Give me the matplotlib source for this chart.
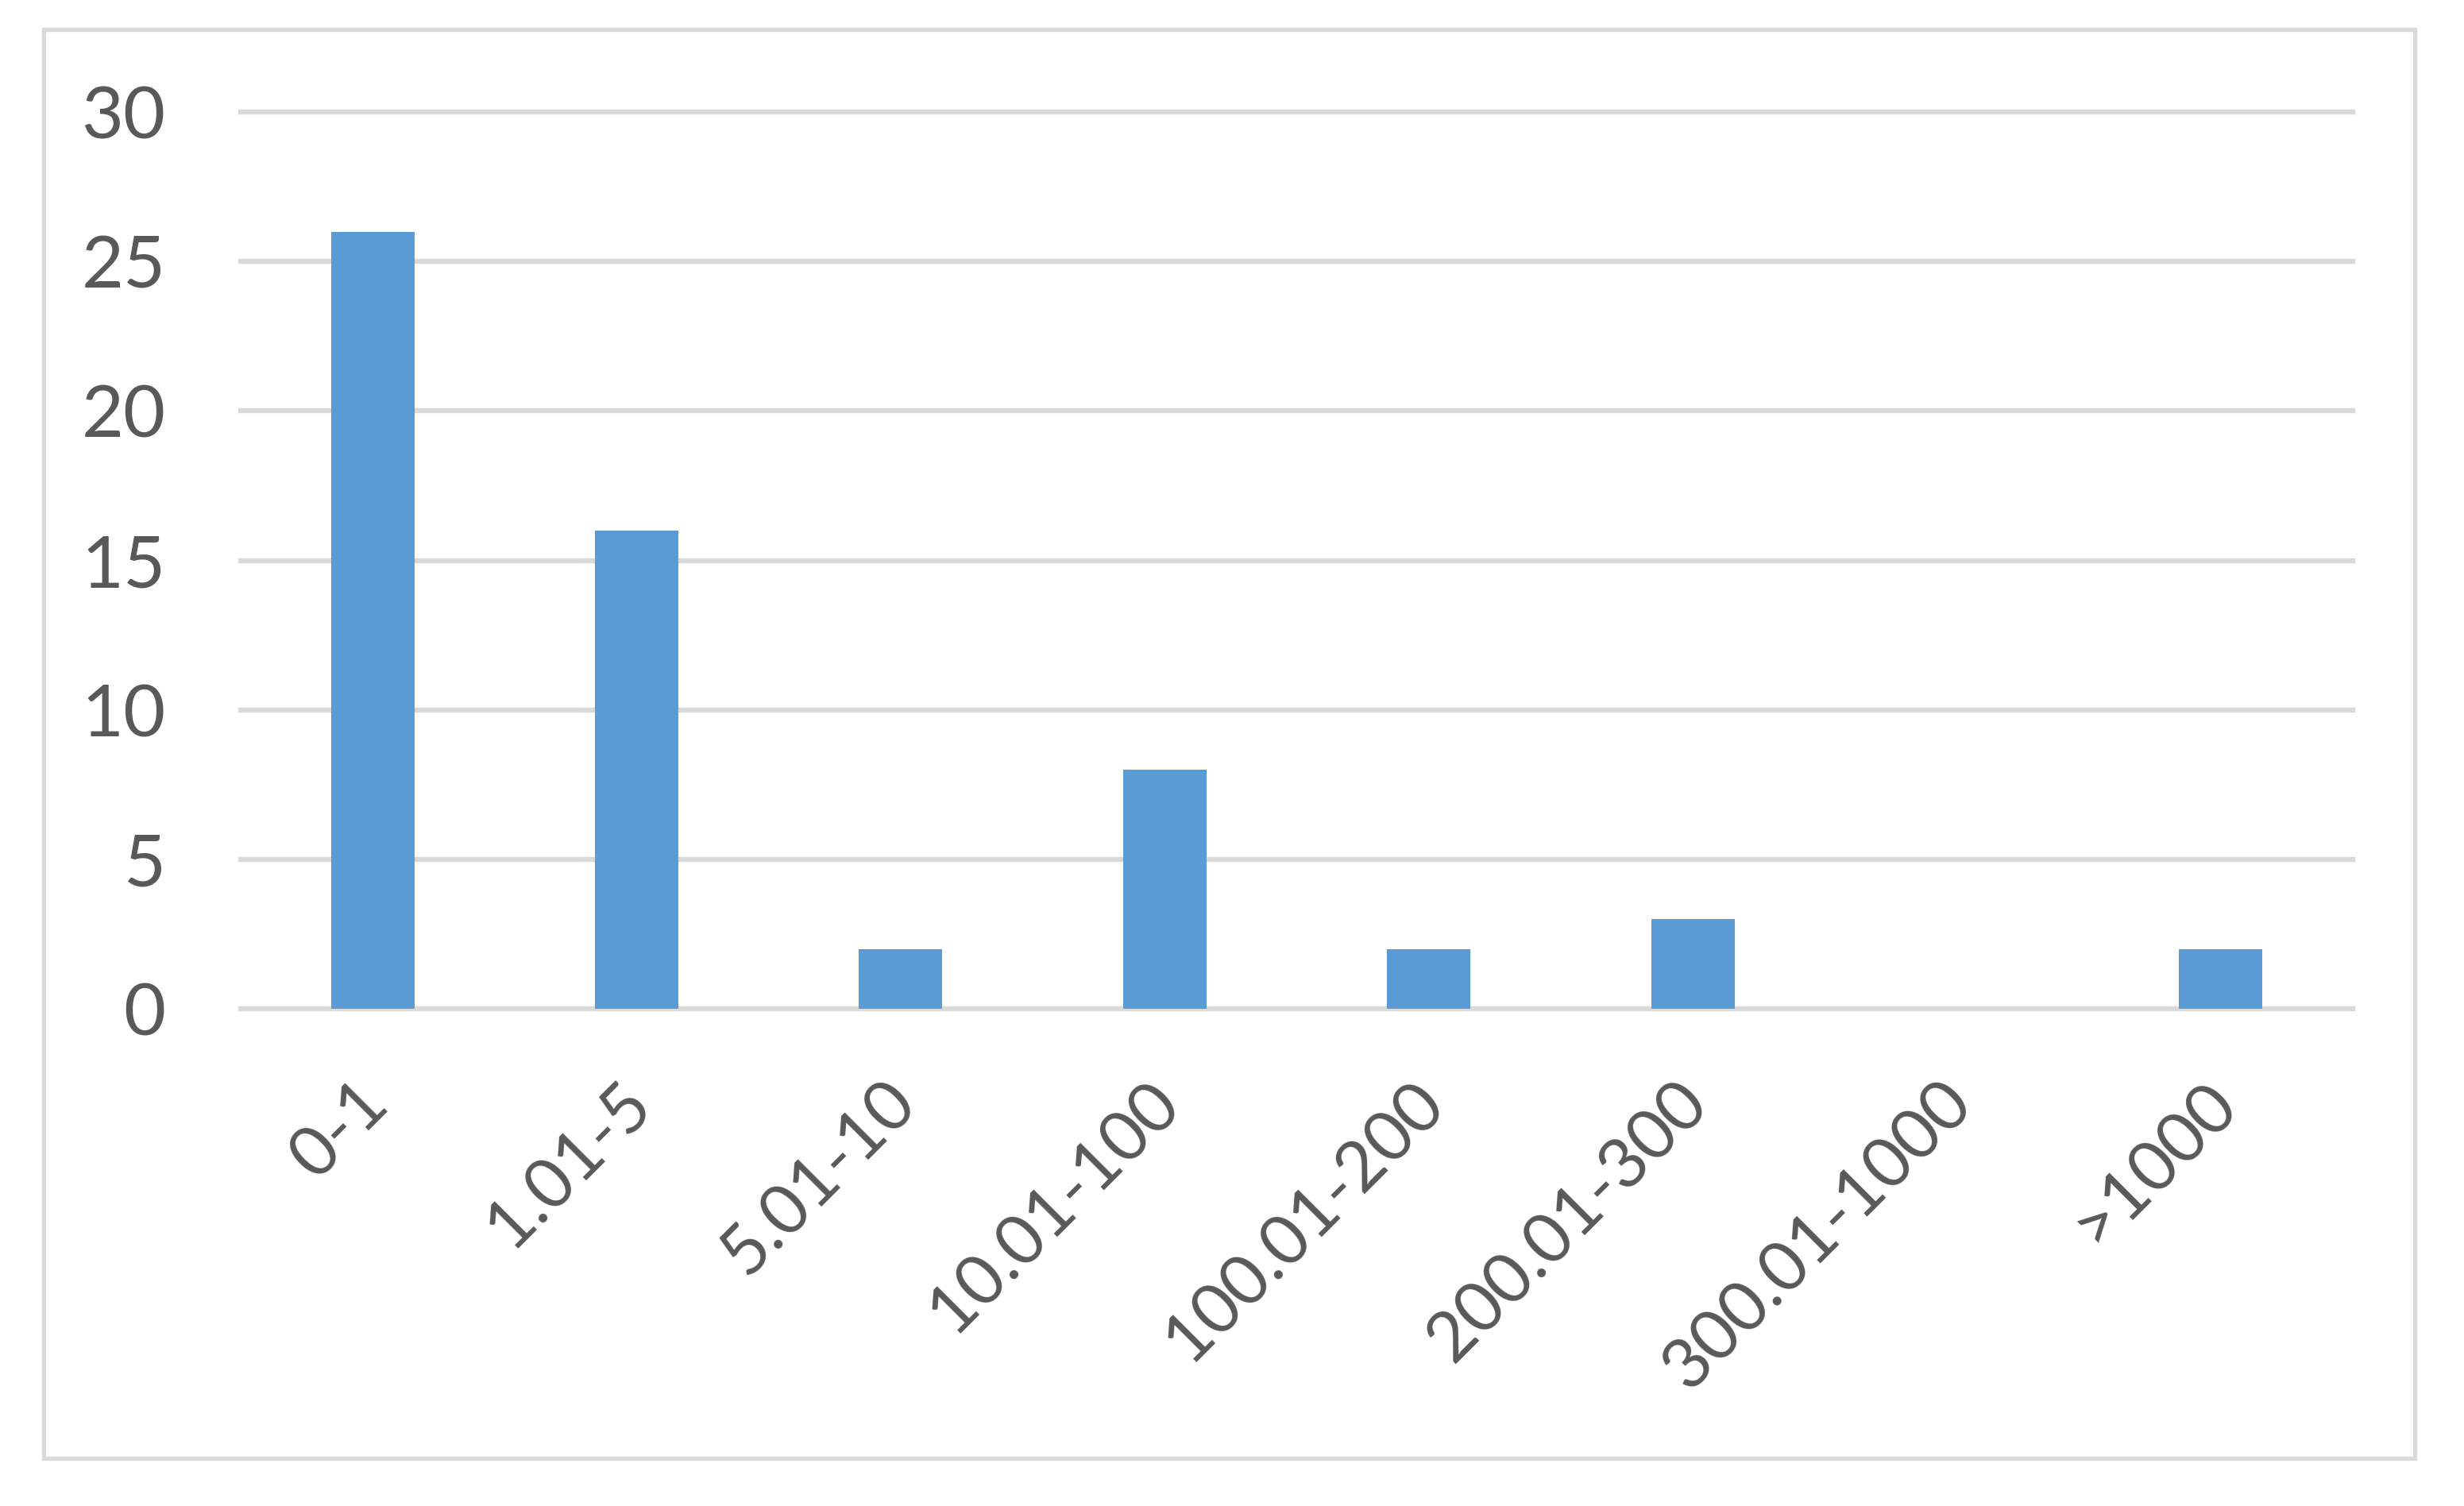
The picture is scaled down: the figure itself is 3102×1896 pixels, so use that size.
import matplotlib
matplotlib.use("Agg")
import matplotlib.pyplot as plt
import matplotlib.transforms as mtransforms
from matplotlib.patches import Rectangle

# datos
categories = ["0-1", "1.01-5", "5.01-10", "10.01-100", "100.01-200",
              "200.01-300", "300.01-1000", ">1000"]
counts = [26, 16, 2, 8, 2, 3, 0, 2]
y_ticks = [0, 5, 10, 15, 20, 25, 30]

BAR = "#5B9BD5"
GRID = "#D9D9D9"
TEXT = "#595959"

plt.rcParams["font.family"] = ["Lato", "DejaVu Sans"]

W, H, DPI = 3102, 1896, 200
fig = plt.figure(figsize=(W / DPI, H / DPI), dpi=DPI)
fig.patch.set_facecolor("white")

# borde exterior estilo Excel
fig.patches.append(Rectangle((55 / W, 60 / H), (3040 - 55) / W, (1836 - 37) / H,
                             transform=fig.transFigure, fill=False,
                             edgecolor=GRID, linewidth=1.9))

ax = fig.add_axes([303 / W, 626 / H, (2962 - 303) / W, (1755 - 626) / H])
xs = list(range(len(categories)))
ax.bar(xs, counts, width=0.316, color=BAR, zorder=3)

ax.set_xlim(-0.5, len(categories) - 0.5)
ax.set_ylim(0, 30)
ax.set_yticks(y_ticks)
ax.set_xticks(xs)
ax.set_xticklabels(categories, rotation=45, ha="right")

ax.yaxis.grid(True, color=GRID, linewidth=2.3, zorder=0)
ax.set_axisbelow(True)
for ln in ax.get_ygridlines():
    ln.set_clip_on(False)

for s in ax.spines.values():
    s.set_visible(False)

ax.tick_params(axis="y", length=0, pad=34, labelsize=33, labelcolor=TEXT)
ax.tick_params(axis="x", length=0, pad=28, labelsize=31.5, labelcolor=TEXT)

# desplazar etiquetas del eje x un poco a la derecha (como Excel)
shift = mtransforms.ScaledTranslation(34 / DPI, 0, fig.dpi_scale_trans)
for lab in ax.get_xticklabels():
    lab.set_transform(lab.get_transform() + shift)

fig.savefig("out.png", dpi=DPI)
